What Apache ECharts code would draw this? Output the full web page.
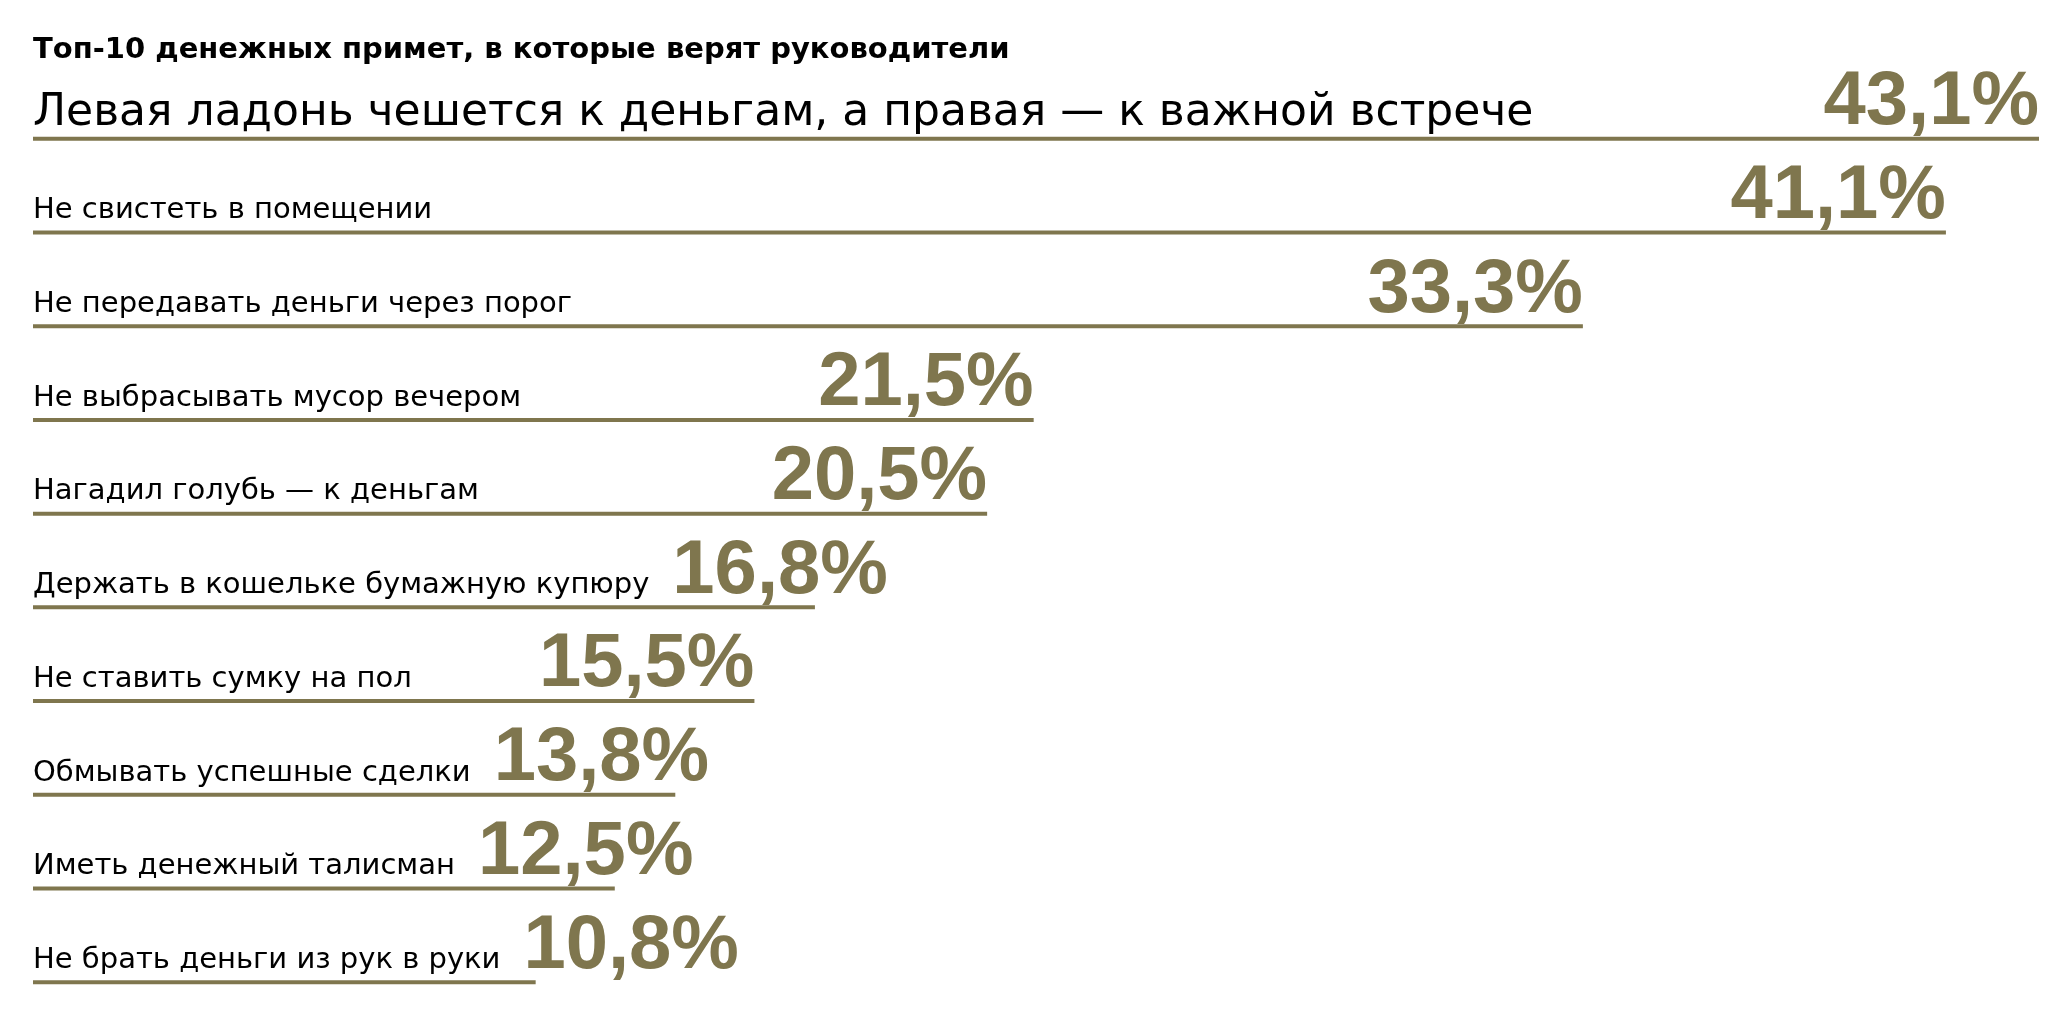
<!DOCTYPE html>
<html>
<head>
<meta charset="utf-8">
<script src="https://cdn.jsdelivr.net/npm/echarts@6/dist/echarts.min.js"></script>
<style>
html,body{margin:0;padding:0;background:#fff;}
#chart{width:2069px;height:1031px;}
</style>
</head>
<body>
<div id="chart"></div>
<script>
const titleText = 'Топ-10 денежных примет, в которые верят руководители';
const categories = [
  'Левая ладонь чешется к деньгам, а правая — к важной встрече',
  'Не свистеть в помещении',
  'Не передавать деньги через порог',
  'Не выбрасывать мусор вечером',
  'Нагадил голубь — к деньгам',
  'Держать в кошельке бумажную купюру',
  'Не ставить сумку на пол',
  'Обмывать успешные сделки',
  'Иметь денежный талисман',
  'Не брать деньги из рук в руки'
];
const values = [43.1, 41.1, 33.3, 21.5, 20.5, 16.8, 15.5, 13.8, 12.5, 10.8];

const OLIVE = '#7f764e';
const LFONT = '"DejaVu Sans", sans-serif';
const VFONT = '"Liberation Sans", Arial, sans-serif';
const LABEL_SIZE = 29, FIRST_LABEL_SIZE = 44, VALUE_SIZE = 76;

const measureCtx = document.createElement('canvas').getContext('2d');
function textWidth(text, font) { measureCtx.font = font; return measureCtx.measureText(text).width; }
function fmt(v) { return v.toFixed(1).replace('.', ',') + '%'; }

const chart = echarts.init(document.getElementById('chart'), null, {renderer: 'canvas'});
chart.setOption({
  animation: false,
  backgroundColor: '#ffffff',
  title: {
    text: titleText,
    left: 33, top: 36, padding: 0,
    textStyle: {fontFamily: LFONT, fontSize: 29, fontWeight: 'bold', color: '#000'}
  },
  grid: {left: 33, right: 30, top: 92, height: 937},
  xAxis: {type: 'value', min: 0, max: 43.1, show: false},
  yAxis: {type: 'category', data: categories, inverse: true, show: false},
  series: [{
    type: 'custom',
    data: values.map((v, i) => [v, i]),
    encode: {x: 0, y: 1},
    renderItem: function (params, api) {
      const i = params.dataIndex;
      const v = api.value(0);
      const p0 = api.coord([0, i]);
      const p1 = api.coord([v, i]);
      const y = p0[1];
      const lSize = i === 0 ? FIRST_LABEL_SIZE : LABEL_SIZE;
      const lFont = 'normal ' + lSize + 'px ' + LFONT;
      const vFont = 'bold ' + VALUE_SIZE + 'px ' + VFONT;
      const lw = textWidth(categories[i], lFont);
      const vw = textWidth(fmt(v), vFont);
      const valueRight = Math.max(p1[0], p0[0] + lw + 23 + vw);
      const lBase = y - (i === 0 ? 12 : 13);
      const vBase = y - 12;
      return {
        type: 'group',
        children: [
          {type: 'rect', shape: {x: p0[0], y: y - 2, width: p1[0] - p0[0], height: 4},
           style: {fill: OLIVE}},
          {type: 'text', style: {text: categories[i], x: p0[0], y: lBase + 0.2 * lSize,
            font: lFont, fill: '#000', align: 'left', verticalAlign: 'bottom'}},
          {type: 'text', style: {text: fmt(v), x: valueRight, y: vBase + 0.19 * VALUE_SIZE,
            font: vFont, fill: OLIVE, align: 'right', verticalAlign: 'bottom'}}
        ]
      };
    }
  }]
});
</script>
</body>
</html>
